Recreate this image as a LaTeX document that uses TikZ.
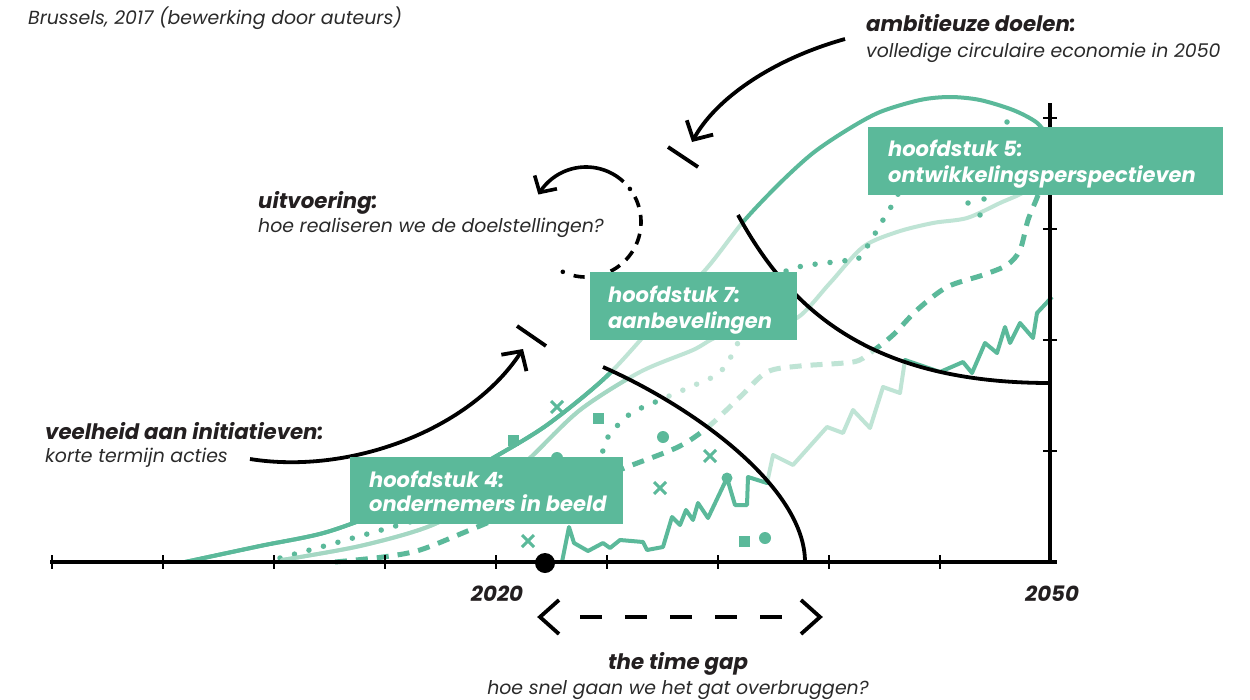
\documentclass[tikz,border=0pt]{standalone}
\usepackage{fontspec}
\setmainfont{Poppins}
\usetikzlibrary{arrows.meta,shapes.misc}
\definecolor{gdark}{HTML}{5BB99A}
\definecolor{glight}{HTML}{BFE4D5}
\definecolor{gmid}{HTML}{A4D7C3}
\definecolor{ink}{HTML}{231F20}
\definecolor{inkgray}{HTML}{2A2A2A}
\tikzset{
  solidc/.style={line width=4pt, line cap=round},
  dotc/.style={line width=5.5pt, line cap=round, dash pattern=on 0pt off 15pt},
  dashc/.style={line width=5pt, dash pattern=on 12pt off 9pt},
  zigc/.style={line width=4pt, line join=round},
  blk/.style={line width=3.8pt, black},
  tickm/.style={line width=2pt, black},
  chapbox/.style={fill=gdark, inner sep=0pt, anchor=north west},
  chaptext/.style={text=white, font=\fontsize{21}{26}\selectfont\bfseries\itshape, inner sep=0pt, anchor=base west},
  head/.style={font=\fontsize{21.3}{25}\selectfont\bfseries\itshape, text=ink, inner sep=0pt},
  subt/.style={font=\fontsize{18.9}{23}\selectfont\itshape, text=inkgray, inner sep=0pt},
  sqm/.style={fill=gdark, minimum size=11pt, inner sep=0pt},
  dotm/.style={circle, fill=gdark, minimum size=12pt, inner sep=0pt},
  smalldot/.style={circle, fill=gdark, minimum size=5.5pt, inner sep=0pt},
  xm/.style={cross out, draw=gdark, line width=3pt, minimum size=9pt, inner sep=0pt},
  chev/.style={-{Straight Barb[length=14pt,width=30pt]}},
}
\def\pathA{plot[smooth] coordinates {(185,562) (260,546) (327,532) (400,505) (450,482) (493,458) (547,425) (607,376) (660,318) (707,268) (743,222) (780,183) (813,153) (847,130) (880,112) (920,100) (950,97) (980,100) (1013,110) (1036,122) (1048,136)}}
\def\pathB{plot[smooth] coordinates {(282,560) (360,546) (430,526) (490,494) (530,458) (580,410) (640,372) (693,350) (717,337) (760,326) (797,318) (830,283) (863,247) (897,232) (933,223) (967,218) (1000,203) (1027,190) (1043,168) (1050,150)}}
\def\pathC{plot[smooth] coordinates {(280,558) (328,545) (392,527) (470,505) (550,482) (595,465) (608,437) (630,414) (660,400) (690,387) (719,373) (736,347) (755,300) (788,270) (842,261) (859,258) (886,215) (895,200) (905,180)}}
\def\pathD{plot[smooth] coordinates {(335,562) (383,557) (420,550) (470,530) (550,497) (627,467) (678,447) (708,427) (740,397) (767,372) (800,366) (853,362) (870,353) (893,335) (917,310) (947,287) (983,275) (1007,265) (1020,250) (1028,220) (1038,195) (1045,170)}}
\def\pathE{plot coordinates {(562,562) (569,527) (574,543) (588,551) (603,543) (610,548) (620,540) (643,542) (647,550) (663,547) (672,517) (680,525) (686,510) (693,520) (698,503) (708,518) (727,478) (735,505) (747,505) (748,477) (767,483) (773,455) (793,465) (827,427) (843,433) (853,410) (870,428) (883,387) (900,393) (905,360) (940,372) (963,362) (972,373) (985,343) (997,353) (1005,327) (1010,343) (1020,323) (1033,338) (1037,313) (1052,297)}}
\def\regL{(0,610) -- (0,324) -- (506,324) -- (603,367) .. controls (700,410) and (805,490) .. (805,562) -- (805,610) -- cycle}
\def\regM{(603,367) .. controls (700,410) and (805,490) .. (805,562) -- (1050,562) -- (1050,383) .. controls (870,383) and (790,310) .. (738,215) -- (712,168) -- (506,324) -- cycle}
\begin{document}
\begin{tikzpicture}[x=1pt,y=-1pt]
\useasboundingbox[fill=white] (0,0) rectangle (1250,699);
% base curves
\draw[solidc, glight] \pathB;
\draw[dotc, gdark] \pathC;
\draw[dashc, gdark] \pathD;
\draw[zigc, gdark] \pathE;
\draw[solidc, gdark] \pathA;
\begin{scope}
  \clip \regL;
  \draw[solidc, gmid] \pathB;
  \draw[solidc, gdark] \pathA;
\end{scope}
\begin{scope}
  \clip \regM;
  \fill[white] \regM;
  \draw[solidc, glight] \pathB;
  \draw[dotc, glight] \pathC;
  \draw[dashc, glight] \pathD;
  \draw[zigc, glight] \pathE;
  \draw[solidc, glight] \pathA;
\end{scope}
% markers
\node[sqm] (s1) at (513,440) {};
\node[sqm] (s2) at (598,418) {};
\node[sqm] (s3) at (744,541) {};
\node[dotm] (c1) at (663,437) {};
\node[dotm] (c2) at (765,538) {};
\node[dotm] (c3) at (557,458) {};
\node[dotm, minimum size=11pt] (c4) at (727,478) {};
\node[xm] (x1) at (557,407) {};
\node[xm] (x2) at (660,488) {};
\node[xm] (x3) at (710,456) {};
\node[xm] (x4) at (528,541) {};
\node[smalldot] (d1) at (968,203) {};
\node[smalldot] (d2) at (984,199) {};
\node[smalldot] (d3) at (980,215) {};
\node[smalldot] (d4) at (1007,122) {};
% black arcs
\coordinate (la1) at (603,367); \coordinate (la2) at (805,562);
\coordinate (ua1) at (738,215); \coordinate (ua2) at (1050,383);
\draw[blk] (la1) .. controls (700,410) and (805,490) .. (la2);
\draw[blk] (ua1) .. controls (790,310) and (870,383) .. (ua2);
% axes
\coordinate (ax0) at (50,562); \coordinate (ax1) at (1057,562);
\coordinate (ay0) at (1050,103); \coordinate (ay1) at (1050,562);
\draw[blk] (ax0) -- (ax1);
\draw[blk] (ay0) -- (ay1);
\foreach \xx in {52,163,274,385,496,607,718,829,940} { \draw[tickm] (\xx,555) -- (\xx,569); }
\foreach \yy in {118,229,340,451} { \draw[tickm] (1043,\yy) -- (1057,\yy); }
\node[circle, fill=black, minimum size=20pt, inner sep=0pt] (y2020) at (545,563) {};
% arrows
\coordinate (vA) at (250,459); \coordinate (vB) at (523,349);
\draw[blk, chev] (vA) .. controls (350,475) and (470,430) .. (vB);
\coordinate (k1a) at (517,326); \coordinate (k1b) at (546,346);
\draw[blk, line cap=butt] (k1a) -- (k1b);
\coordinate (aA) at (845,39); \coordinate (aB) at (692,142);
\draw[blk, chev] (aA) .. controls (770,60) and (715,100) .. (aB);
\coordinate (k2a) at (668,147); \coordinate (k2b) at (698,167);
\draw[blk, line cap=butt] (k2a) -- (k2b);
% circular arrow
\draw[line width=3.6pt, dash pattern=on 11pt off 8pt] plot[domain=103:-28, samples=60] ({586+55*cos(\x)},{222+55*sin(\x)});
\fill[black] (562.8,271.8) circle[radius=2.3pt];
\fill[black] (629.9,188.9) circle[radius=2.3pt];
\draw[line width=3.6pt, -{Straight Barb[length=12pt,width=26pt]}] plot[domain=-47:-150, samples=60] ({586+55*cos(\x)},{222+55*sin(\x)});
% time gap arrow
\coordinate (tgL) at (540,617); \coordinate (tgR) at (820,617);
\coordinate (tg1) at (580,617); \coordinate (tg2) at (782,617);
\draw[blk, line join=miter] (559,600) -- (tgL) -- (559,634);
\draw[blk, line join=miter] (801,600) -- (tgR) -- (801,634);
\draw[blk, dash pattern=on 22pt off 23pt] (tg1) -- (tg2);
% chapter boxes
\node[chapbox, minimum width=355pt, minimum height=68pt] (b5) at (868,127) {};
\node[chaptext] (b5a) at (888,156) {hoofdstuk 5:};
\node[chaptext] (b5b) at (888,182) {ontwikkelingsperspectieven};
\node[chapbox, minimum width=207pt, minimum height=68pt] (b7) at (590,272) {};
\node[chaptext] (b7a) at (608,302) {hoofdstuk 7:};
\node[chaptext] (b7b) at (608,328) {aanbevelingen};
\node[chapbox, minimum width=273pt, minimum height=67pt] (b4) at (350,457) {};
\node[chaptext] (b4a) at (369,487) {hoofdstuk 4:};
\node[chaptext] (b4b) at (369,511) {ondernemers in beeld};
% texts
\node[subt, anchor=base west] (src) at (28,24) {Brussels, 2017 (bewerking door auteurs)};
\node[head, anchor=base west] (t1) at (866,31) {ambitieuze doelen:};
\node[subt, anchor=base west] (t2) at (866,57) {volledige circulaire economie in 2050};
\node[head, anchor=base west] (t3) at (258,208) {uitvoering:};
\node[subt, anchor=base west] (t4) at (258,232) {hoe realiseren we de doelstellingen?};
\node[head, anchor=base west] (t5) at (45,439) {veelheid aan initiatieven:};
\node[subt, anchor=base west] (t6) at (45,462) {korte termijn acties};
\node[head, anchor=base] (t8) at (678,669) {the time gap};
\node[subt, anchor=base] (t9) at (678,694) {hoe snel gaan we het gat overbruggen?};
\node[head, anchor=base] (t10) at (497,601) {2020};
\node[head, anchor=base] (t11) at (1052,601) {2050};
\end{tikzpicture}
\end{document}
